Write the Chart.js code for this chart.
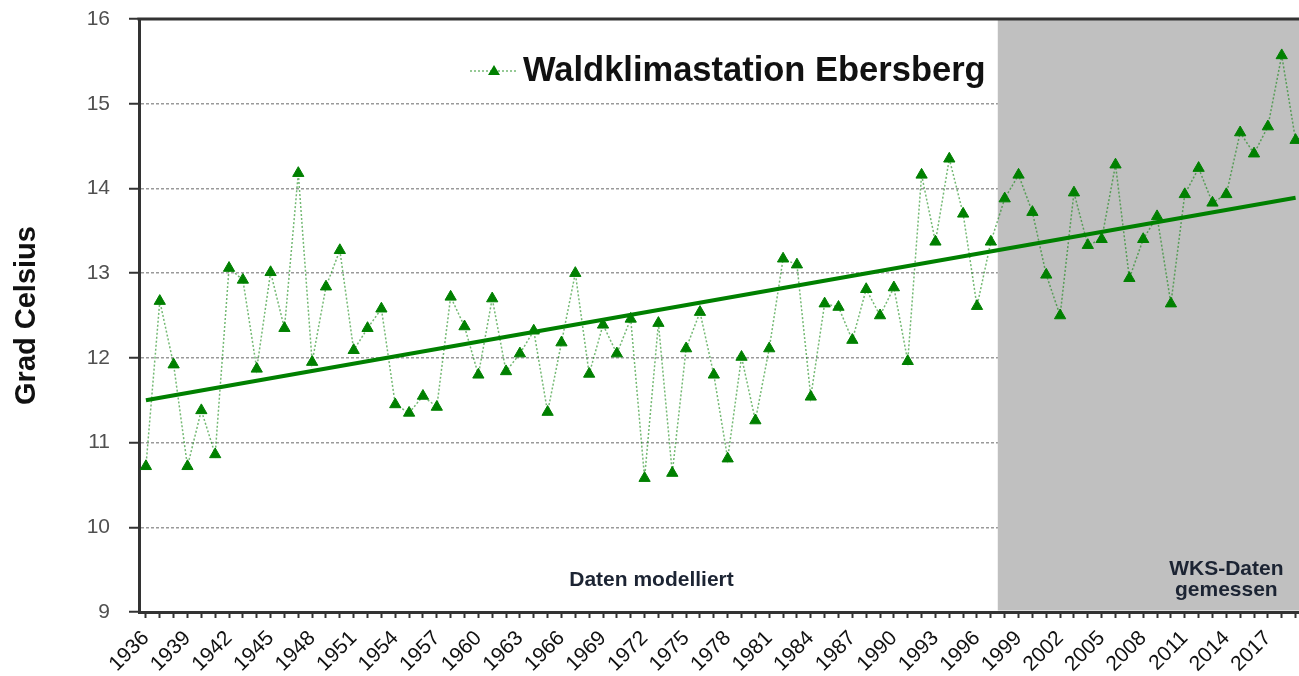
<!DOCTYPE html>
<html>
<head>
<meta charset="utf-8">
<script src="https://cdn.jsdelivr.net/npm/chart.js@4.4.1/dist/chart.umd.min.js"></script>
<style>
  html, body { margin: 0; padding: 0; background: #fff; overflow: hidden; }
  #wrap { width: 1310px; height: 676px; }
</style>
</head>
<body>
<div id="wrap"><canvas id="linechart"></canvas></div>
<script>
const years = [
  "1936", "1937", "1938", "1939", "1940", "1941", "1942", "1943", "1944", "1945",
  "1946", "1947", "1948", "1949", "1950", "1951", "1952", "1953", "1954", "1955",
  "1956", "1957", "1958", "1959", "1960", "1961", "1962", "1963", "1964", "1965",
  "1966", "1967", "1968", "1969", "1970", "1971", "1972", "1973", "1974", "1975",
  "1976", "1977", "1978", "1979", "1980", "1981", "1982", "1983", "1984", "1985",
  "1986", "1987", "1988", "1989", "1990", "1991", "1992", "1993", "1994", "1995",
  "1996", "1997", "1998", "1999", "2000", "2001", "2002", "2003", "2004", "2005",
  "2006", "2007", "2008", "2009", "2010", "2011", "2012", "2013", "2014", "2015",
  "2016", "2017", "2018", "2019",
];

const temps = [
  10.72, 12.67, 11.92, 10.72, 11.38, 10.86, 13.06, 12.92, 11.87, 13.01,
  12.35, 14.18, 11.95, 12.84, 13.27, 12.09, 12.35, 12.58, 11.45, 11.35,
  11.55, 11.42, 12.72, 12.37, 11.80, 12.70, 11.84, 12.05, 12.32, 11.36,
  12.18, 13.00, 11.81, 12.39, 12.05, 12.46, 10.58, 12.41, 10.64, 12.11,
  12.54, 11.80, 10.81, 12.01, 11.26, 12.11, 13.17, 13.10, 11.54, 12.64,
  12.60, 12.21, 12.81, 12.50, 12.83, 11.96, 14.16, 13.37, 14.35, 13.70,
  12.61, 13.37, 13.88, 14.16, 13.72, 12.98, 12.50, 13.95, 13.33, 13.40,
  14.28, 12.94, 13.40, 13.67, 12.64, 13.93, 14.24, 13.83, 13.93, 14.66,
  14.41, 14.73, 15.57, 14.57,
];

const trendStart = 11.50;
const trendEnd = 13.89;
const trend = years.map((y, i) => (i === 0 ? trendStart : i === years.length - 1 ? trendEnd : null));

const yTicks = [9, 10, 11, 12, 13, 14, 15, 16];
const measuredFrom = "1998";

const green = "#008000";
const lineGreen = "rgba(0,128,0,0.55)";
const font = "Arial, 'Liberation Sans', sans-serif";

const bandAndText = {
  id: "bandAndText",
  beforeDatasetsDraw(chart) {
    const { ctx, chartArea, scales } = chart;
    const i = years.indexOf(measuredFrom);
    const left = (scales.x.getPixelForValue(i - 1) + scales.x.getPixelForValue(i)) / 2;
    ctx.save();
    ctx.fillStyle = "#c0c0c0";
    ctx.fillRect(left, chartArea.top, chartArea.right - left, chartArea.bottom - chartArea.top - 1.5);
    ctx.restore();
  },
  afterDraw(chart) {
    const { ctx, chartArea, scales } = chart;
    ctx.save();
    // top frame
    ctx.strokeStyle = "#333";
    ctx.lineWidth = 3;
    ctx.beginPath();
    ctx.moveTo(chartArea.left - 1.5, chartArea.top);
    ctx.lineTo(chartArea.right, chartArea.top);
    ctx.stroke();

    // legend
    const ly = 71;
    ctx.strokeStyle = lineGreen;
    ctx.lineWidth = 1.5;
    ctx.setLineDash([2, 2]);
    ctx.beginPath();
    ctx.moveTo(470, ly);
    ctx.lineTo(518, ly);
    ctx.stroke();
    ctx.setLineDash([]);
    ctx.fillStyle = green;
    ctx.beginPath();
    ctx.moveTo(494, ly - 6);
    ctx.lineTo(500, ly + 4);
    ctx.lineTo(488, ly + 4);
    ctx.closePath();
    ctx.fill();
    ctx.fillStyle = "#111";
    ctx.font = "bold 34.5px " + font;
    ctx.textAlign = "left";
    ctx.textBaseline = "middle";
    ctx.fillText(chart.data.datasets[1].label, 523, ly);

    // notes
    ctx.fillStyle = "#1c2433";
    ctx.font = "bold 21px " + font;
    ctx.textAlign = "center";
    ctx.fillText("Daten modelliert", scales.x.getPixelForValue(36.5), scales.y.getPixelForValue(9.37));
    ctx.fillText("WKS-Daten", scales.x.getPixelForValue(78), scales.y.getPixelForValue(9.51));
    ctx.fillText("gemessen", scales.x.getPixelForValue(78), scales.y.getPixelForValue(9.26));
    ctx.restore();
  },
};

document.addEventListener("DOMContentLoaded", function () {
  const ctx = document.getElementById("linechart").getContext("2d");
  new Chart(ctx, {
    type: "line",
    data: {
      labels: years,
      datasets: [
        {
          label: "Trend",
          data: trend,
          borderColor: green,
          borderWidth: 4,
          pointRadius: 0,
          spanGaps: true,
          fill: false,
        },
        {
          label: "Waldklimastation Ebersberg",
          data: temps,
          borderColor: lineGreen,
          borderWidth: 1.5,
          borderDash: [2, 2],
          pointStyle: "triangle",
          pointRadius: 6.5,
          pointBackgroundColor: green,
          pointBorderColor: green,
          pointBorderWidth: 1,
          tension: 0,
          fill: false,
        },
      ],
    },
    options: {
      responsive: true,
      maintainAspectRatio: false,
      animation: false,
      layout: { padding: { top: 19, right: 0, left: 0, bottom: 0 } },
      plugins: {
        tooltip: { enabled: false },
        legend: { display: false },
      },
      scales: {
        x: {
          offset: true,
          grid: { drawOnChartArea: false, drawTicks: true, tickLength: 6, tickColor: "#333", tickWidth: 2 },
          border: { color: "#333", width: 3 },
          ticks: {
            autoSkip: false,
            minRotation: 45,
            maxRotation: 45,
            padding: 8,
            color: "#111",
            font: { family: font, size: 21 },
            callback: function (v, i) {
              return i % 3 === 0 ? years[i] : "";
            },
          },
          afterFit: (s) => {
            s.height = 64;
            s.paddingLeft = 0;
            s.paddingRight = 0;
          },
        },
        y: {
          min: yTicks[0],
          max: yTicks[yTicks.length - 1],
          afterBuildTicks: (s) => { s.ticks = yTicks.map((v) => ({ value: v })); },
          grid: { color: "#9a9a9a", lineWidth: 1.5, tickLength: 10, tickColor: "#333", tickWidth: 2, tickBorderDash: [] },
          border: { color: "#333", width: 3, dash: [3, 2] },
          ticks: {
            padding: 19,
            color: "#505050",
            font: { family: font, size: 21 },
          },
          title: {
            display: true,
            text: "Grad Celsius",
            color: "#111",
            padding: { top: 10, bottom: 0 },
            font: { family: font, size: 29, weight: "bold" },
          },
          afterFit: (s) => {
            s.width = 139;
            s.paddingTop = 0;
            s.paddingBottom = 0;
          },
        },
      },
    },
    plugins: [bandAndText],
  });
});
</script>
</body>
</html>
